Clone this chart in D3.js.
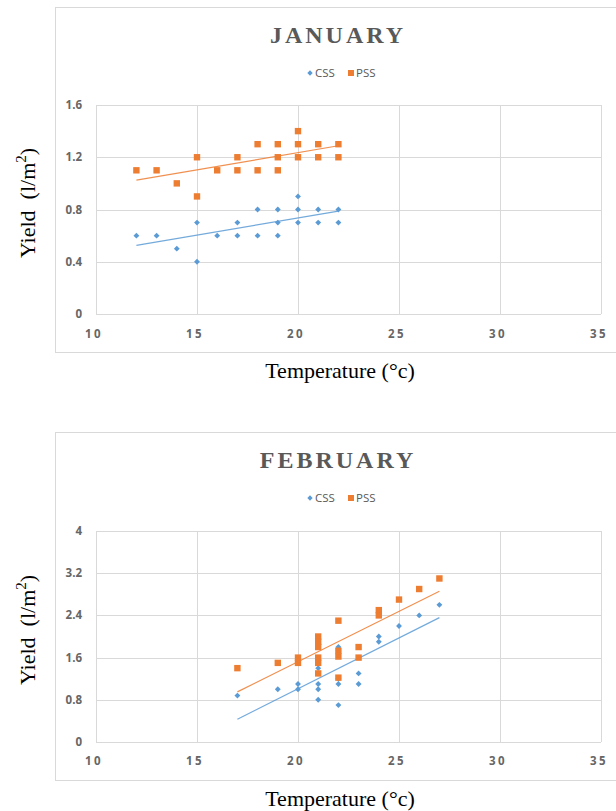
<!DOCTYPE html>
<html>
<head>
<meta charset="utf-8">
<script src="https://cdn.jsdelivr.net/npm/d3@7"></script>
<style>
  html, body { margin: 0; padding: 0; background: #fff; }
  svg { display: block; }
  text { white-space: pre; }
</style>
</head>
<body>
<svg id="chart" width="616" height="811"></svg>
<script>
// January: temperature (°C) and yield (l/m²) per observation
const janCssTemp  = [12, 13, 14, 15, 15, 16, 17, 17, 18, 18, 19, 19, 19, 20, 20, 20, 21, 21, 22, 22];
const janCssYield = [0.6, 0.6, 0.5, 0.7, 0.4, 0.6, 0.7, 0.6, 0.8, 0.6, 0.8, 0.7, 0.6, 0.9, 0.8, 0.7, 0.8, 0.7, 0.8, 0.7];
const janPssTemp  = [12, 13, 14, 15, 15, 16, 17, 17, 18, 18, 19, 19, 19, 20, 20, 20, 21, 21, 22, 22];
const janPssYield = [1.1, 1.1, 1.0, 1.2, 0.9, 1.1, 1.2, 1.1, 1.3, 1.1, 1.3, 1.2, 1.1, 1.4, 1.3, 1.2, 1.3, 1.2, 1.3, 1.2];

// February
const febCssTemp  = [17, 19, 20, 20, 21, 21, 21, 21, 21, 22, 22, 22, 22, 23, 23, 24, 24, 25, 26, 27];
const febCssYield = [0.88, 1.0, 1.1, 1.0, 1.5, 1.4, 1.1, 1.0, 0.8, 1.8, 1.2, 1.1, 0.7, 1.3, 1.1, 2.0, 1.9, 2.2, 2.4, 2.6];
const febPssTemp  = [17, 19, 20, 20, 21, 21, 21, 21, 21, 21, 22, 22, 22, 22, 23, 23, 24, 24, 25, 26, 27];
const febPssYield = [1.4, 1.5, 1.6, 1.5, 2.0, 1.9, 1.8, 1.6, 1.5, 1.3, 2.3, 1.73, 1.62, 1.22, 1.8, 1.6, 2.5, 2.4, 2.7, 2.9, 3.1];

const xTicks = [10, 15, 20, 25, 30, 35];
const janYTicks = [0, 0.4, 0.8, 1.2, 1.6];
const febYTicks = [0, 0.8, 1.6, 2.4, 3.2, 4];
const seriesNames = ["CSS", "PSS"];

const COLORS = { CSS: "#5b9bd5", PSS: "#ed7d31" };
const svg = d3.select("#chart");

function zip(xs, ys) { return xs.map((x, i) => ({ x, y: ys[i] })); }

// ordinary least-squares line through the points
function linearFit(pts) {
  const mx = d3.mean(pts, d => d.x), my = d3.mean(pts, d => d.y);
  const sxy = d3.sum(pts, d => (d.x - mx) * (d.y - my));
  const sxx = d3.sum(pts, d => (d.x - mx) * (d.x - mx));
  const b = sxy / sxx, a = my - b * mx;
  const [x0, x1] = d3.extent(pts, d => d.x);
  return [{ x: x0, y: a + b * x0 }, { x: x1, y: a + b * x1 }];
}

function drawChart(cfg) {
  const g = svg.append("g");
  const top = cfg.top;

  // chart frame
  g.append("rect")
    .attr("x", 55.5).attr("y", top + 0.5)
    .attr("width", 640).attr("height", cfg.frameH)
    .attr("fill", "#fff").attr("stroke", "#d9d9d9");

  const x = d3.scaleLinear().domain([10, 35]).range([96, 601]);
  const y = d3.scaleLinear().domain([0, cfg.yMax]).range([cfg.plotBottom, cfg.plotTop]);

  // grid
  g.append("g").selectAll("line").data(xTicks).join("line")
    .attr("x1", d => Math.round(x(d)) + 0.5).attr("x2", d => Math.round(x(d)) + 0.5)
    .attr("y1", y(cfg.yMax)).attr("y2", y(0))
    .attr("stroke", "#d9d9d9");
  g.append("g").selectAll("line").data(cfg.yTicks).join("line")
    .attr("x1", x(10)).attr("x2", x(35))
    .attr("y1", d => Math.round(y(d)) + 0.5).attr("y2", d => Math.round(y(d)) + 0.5)
    .attr("stroke", "#d9d9d9");

  // tick labels
  g.append("g").selectAll("text").data(cfg.yTicks).join("text")
    .attr("x", 82).attr("y", d => y(d)).attr("dy", "0.35em")
    .attr("text-anchor", "end")
    .attr("font-family", "'Open Sans', sans-serif").attr("font-weight", "bold")
    .attr("font-size", 11.5).attr("fill", "#666")
    .text(d => d);
  g.append("g").selectAll("text").data(xTicks).join("text")
    .attr("x", d => x(d) - 2).attr("y", cfg.xLabelY).attr("dy", "0.35em")
    .attr("text-anchor", "middle")
    .attr("font-family", "'Open Sans', sans-serif").attr("font-weight", "bold")
    .attr("font-size", 11.5).attr("letter-spacing", 2.5).attr("fill", "#666")
    .text(d => d);

  // title
  g.append("text")
    .attr("x", 338).attr("y", cfg.titleY).attr("dy", "0.35em")
    .attr("text-anchor", "middle")
    .attr("font-family", "'Liberation Serif', 'Times New Roman', serif")
    .attr("font-weight", "bold").attr("font-size", 24).attr("letter-spacing", 3)
    .attr("fill", "#595959")
    .text(cfg.title);

  // legend
  const lg = g.append("g").attr("transform", `translate(0,${cfg.legendY})`);
  const legendX = [310, 351];
  seriesNames.forEach((name, i) => {
    const lx = legendX[i];
    if (name === "CSS") {
      lg.append("path").attr("d", d3.symbol(d3.symbolDiamond2, 18)())
        .attr("transform", `translate(${lx},0)`).attr("fill", COLORS.CSS);
    } else {
      lg.append("rect").attr("x", lx - 3).attr("y", -3).attr("width", 6).attr("height", 6)
        .attr("fill", COLORS.PSS);
    }
    lg.append("text").attr("x", lx + 5).attr("y", 0).attr("dy", "0.35em")
      .attr("font-family", "'Open Sans', sans-serif").attr("font-size", 11.5)
      .attr("fill", "#595959").text(name);
  });

  // axis titles
  g.append("text")
    .attr("x", 340).attr("y", cfg.xTitleY).attr("dy", "0.35em")
    .attr("text-anchor", "middle")
    .attr("font-family", "'Liberation Serif', 'Times New Roman', serif")
    .attr("font-size", 22).attr("fill", "#000")
    .text("Temperature (°c)");
  const yt = g.append("text")
    .attr("transform", `translate(35,${cfg.yTitleY}) rotate(-90)`)
    .attr("text-anchor", "middle")
    .attr("font-family", "'Liberation Serif', 'Times New Roman', serif")
    .attr("font-size", 22).attr("fill", "#000");
  yt.append("tspan").text("Yield  (l/m");
  yt.append("tspan").attr("font-size", 15).attr("dy", -9).text("2");
  yt.append("tspan").attr("dy", 9).text(")");

  // series
  cfg.series.forEach(s => {
    const pts = zip(s.temp, s.yield);
    const fit = linearFit(pts);
    g.append("line")
      .attr("x1", x(fit[0].x)).attr("y1", y(fit[0].y))
      .attr("x2", x(fit[1].x)).attr("y2", y(fit[1].y))
      .attr("stroke", COLORS[s.name]).attr("stroke-width", 1.2).attr("stroke-opacity", 0.85);
    if (s.name === "CSS") {
      g.append("g").selectAll("path").data(pts).join("path")
        .attr("d", d3.symbol(d3.symbolDiamond2, 22)())
        .attr("transform", d => `translate(${x(d.x)},${y(d.y)})`)
        .attr("fill", COLORS.CSS);
    } else {
      g.append("g").selectAll("rect").data(pts).join("rect")
        .attr("x", d => x(d.x) - 3.2).attr("y", d => y(d.y) - 3.2)
        .attr("width", 6.4).attr("height", 6.4)
        .attr("fill", COLORS.PSS);
    }
  });
}

drawChart({
  title: "JANUARY", top: 7, frameH: 345,
  plotTop: 105, plotBottom: 314, yMax: 1.6, yTicks: janYTicks,
  titleY: 35, legendY: 73, xLabelY: 334, xTitleY: 370, yTitleY: 203,
  series: [
    { name: "CSS", temp: janCssTemp, yield: janCssYield },
    { name: "PSS", temp: janPssTemp, yield: janPssYield }
  ]
});

drawChart({
  title: "FEBRUARY", top: 432, frameH: 348,
  plotTop: 531, plotBottom: 742, yMax: 4, yTicks: febYTicks,
  titleY: 460, legendY: 498, xLabelY: 761, xTitleY: 798, yTitleY: 630,
  series: [
    { name: "CSS", temp: febCssTemp, yield: febCssYield },
    { name: "PSS", temp: febPssTemp, yield: febPssYield }
  ]
});
</script>
</body>
</html>
